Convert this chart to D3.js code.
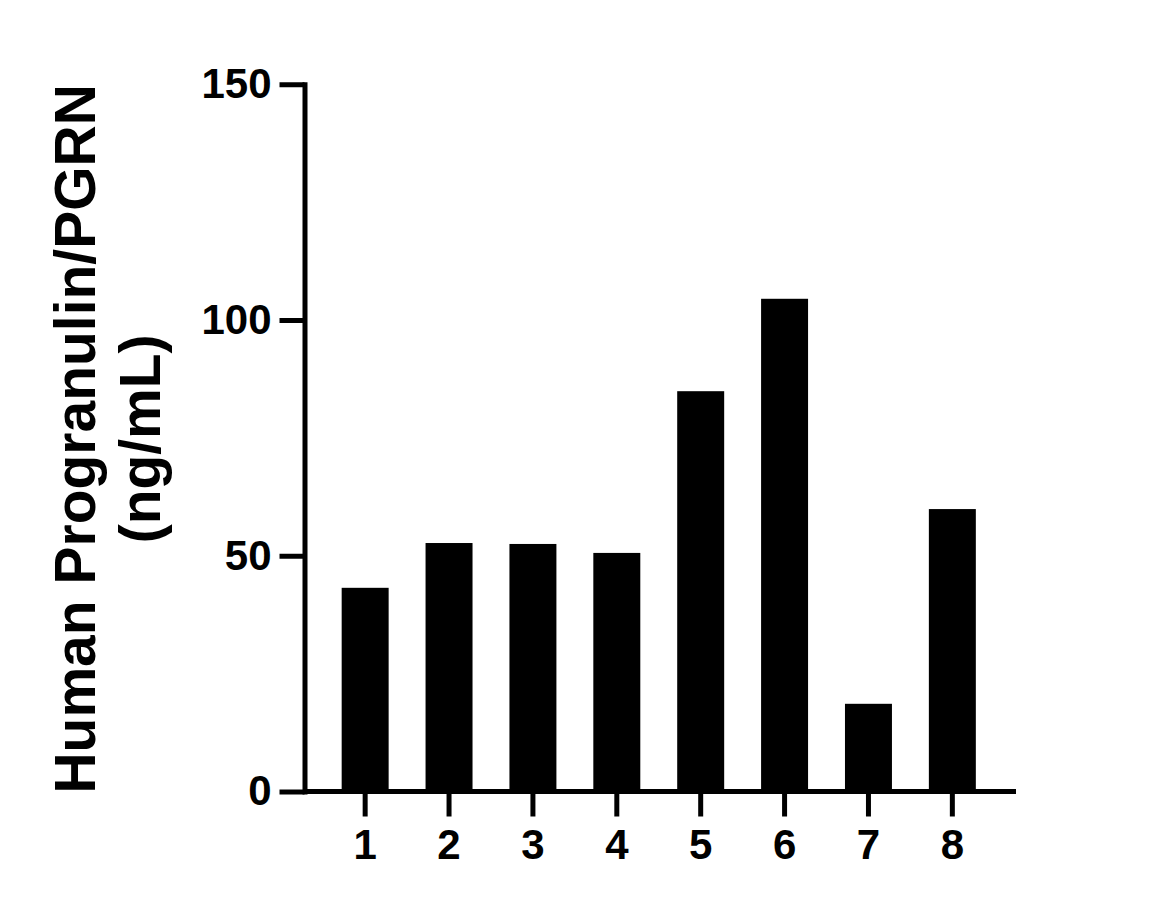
<!DOCTYPE html>
<html>
<head>
<meta charset="utf-8">
<script src="https://cdn.jsdelivr.net/npm/d3@7"></script>
<style>
  html, body { margin: 0; padding: 0; background: #fff; }
  svg { display: block; }
  text { font-family: "Liberation Sans", Arial, sans-serif; font-weight: bold; fill: #000; }
</style>
</head>
<body>
<svg id="chart" width="1151" height="908"></svg>
<script>
const categories = ["1", "2", "3", "4", "5", "6", "7", "8"];
const values = [43.2, 52.7, 52.5, 50.6, 84.9, 104.5, 18.6, 59.9];
const yTicks = [0, 50, 100, 150];
const yTitleLines = ["Human Progranulin/PGRN", "(ng/mL)"];

const svg = d3.select("#chart");
const x0 = 304.5, x1 = 1016, yTop = 84.25, yBottom = 791.5;

const x = d3.scaleBand().domain(categories).range([x0 - 1, x1 - 2])
  .paddingInner(0.44).paddingOuter(0.455);
const y = d3.scaleLinear().domain([0, 150]).range([yBottom, yTop]);

// bars
svg.append("g").selectAll("rect").data(values).join("rect")
  .attr("x", (d, i) => x(categories[i]))
  .attr("width", x.bandwidth())
  .attr("y", d => y(d))
  .attr("height", d => y(0) - y(d))
  .attr("fill", "#000");

// y axis
const yAxis = svg.append("g").attr("transform", `translate(${x0},0)`)
  .call(d3.axisLeft(y).tickValues(yTicks).tickSize(25).tickSizeOuter(0).tickPadding(8));
yAxis.select(".domain").attr("stroke", "#000").attr("stroke-width", 5).attr("stroke-linecap", "square");
yAxis.selectAll(".tick line").attr("stroke", "#000").attr("stroke-width", 5);
yAxis.selectAll(".tick text").style("font-size", "42px").style("font-family", "'Liberation Sans', Arial, sans-serif").style("font-weight", "bold");

// x axis
const xAxis = svg.append("g").attr("transform", `translate(0,${yBottom})`)
  .call(d3.axisBottom(x).tickSize(25).tickSizeOuter(0).tickPadding(13));
xAxis.select(".domain").attr("d", `M${x0},0H${x1}`).attr("stroke", "#000").attr("stroke-width", 5);
xAxis.selectAll(".tick line").attr("stroke", "#000").attr("stroke-width", 5);
xAxis.selectAll(".tick text").style("font-size", "42px").style("font-family", "'Liberation Sans', Arial, sans-serif").style("font-weight", "bold");

// y title
const cy = (yTop + yBottom) / 2 + 1;
const title = svg.append("text")
  .attr("transform", "rotate(-90)")
  .attr("text-anchor", "middle")
  .style("font-size", "57px");
title.selectAll("tspan").data(yTitleLines).join("tspan")
  .attr("x", -cy)
  .attr("y", (d, i) => 95 + i * 65)
  .text(d => d);
</script>
</body>
</html>
